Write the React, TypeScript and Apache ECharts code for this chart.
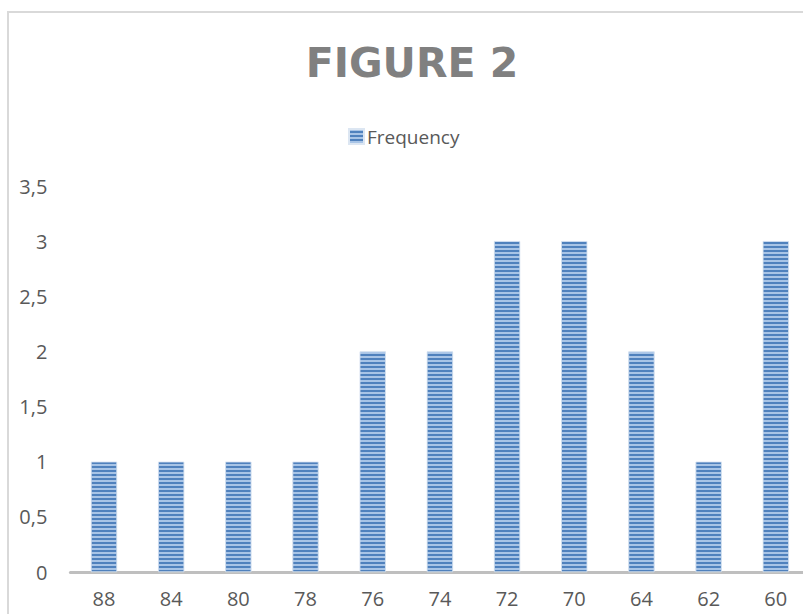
import React, { useEffect, useRef } from "react";
import * as echarts from "echarts";

const categories = ["88", "84", "80", "78", "76", "74", "72", "70", "64", "62", "60"];
const frequency = [1, 1, 1, 1, 2, 2, 3, 3, 2, 1, 3];
const seriesName = "Frequency";
const titleText = "FIGURE 2";

export default function App() {
  const ref = useRef<HTMLDivElement>(null);
  useEffect(() => {
    if (!ref.current) return;
    const chart = echarts.init(ref.current, undefined, { renderer: "svg" });
    chart.setOption({
      animation: false,
      backgroundColor: "#ffffff",
      aria: { enabled: true, decal: { show: true } },
      title: {
        text: titleText,
        left: 407,
        textAlign: "center",
        top: 37,
        textStyle: {
          fontFamily: "DejaVu Sans",
          fontWeight: "bold",
          fontSize: 41,
          color: "#808080",
        },
      },
      legend: {
        data: [seriesName],
        left: 343,
        top: 122,
        itemWidth: 15,
        itemHeight: 15,
        itemGap: 6,
        icon: "rect",
        textStyle: { fontFamily: "Open Sans", fontSize: 19, color: "#595959", padding: [0, 0, 0, -2] },
      },
      grid: { left: 70.4, top: 186, width: 739, height: 386, containLabel: false, outerBoundsMode: "none" },
      xAxis: {
        type: "category",
        data: categories,
        axisLine: { show: true, lineStyle: { color: "#bfbfbf", width: 3 } },
        axisTick: { show: false },
        axisLabel: { fontFamily: "Open Sans", fontSize: 20, color: "#595959", margin: 16 },
        splitLine: { show: false },
      },
      yAxis: {
        type: "value",
        min: 0,
        max: 3.5,
        interval: 0.5,
        axisLine: { show: false },
        axisTick: { show: false },
        splitLine: { show: false },
        axisLabel: {
          fontFamily: "Open Sans",
          fontSize: 20,
          color: "#595959",
          margin: 23,
          formatter: (v: number) => String(v).replace(".", ","),
        },
      },
      graphic: [
        {
          type: "rect",
          shape: { x: 8, y: 12, width: 830, height: 640 },
          style: { fill: "none", stroke: "#d9d9d9", lineWidth: 2 },
          silent: true,
        },
      ],
      series: [
        {
          name: seriesName,
          type: "bar",
          data: frequency,
          barWidth: 26,
          itemStyle: {
            color: "#4f81bd",
            borderColor: "#dce6f2",
            borderWidth: 0.5,
            decal: {
              symbol: "rect",
              symbolSize: 1,
              dashArrayX: [1, 0],
              dashArrayY: [2, 2],
              rotation: 0,
              color: "rgba(190, 212, 240, 0.8)",
            },
          },
        },
      ],
    });
    return () => chart.dispose();
  }, []);
  return (
    <div
      ref={ref}
      style={{ position: "absolute", left: 0, top: 0, width: 803, height: 614 }}
    />
  );
}
